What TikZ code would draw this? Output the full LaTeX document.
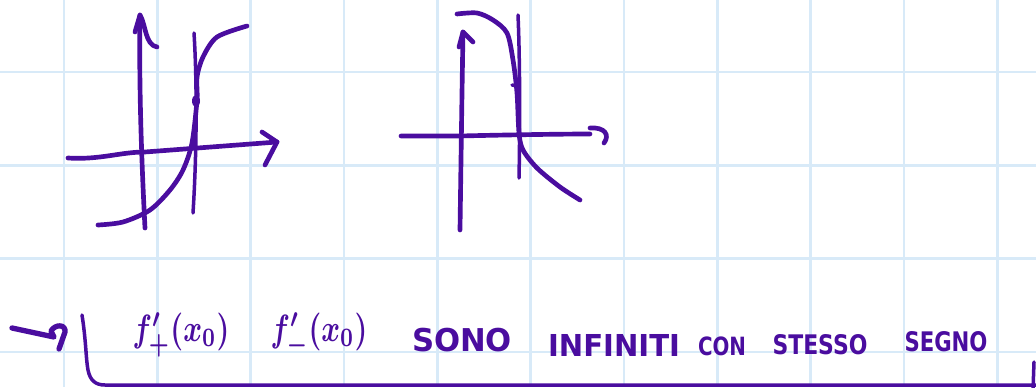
\documentclass[tikz,border=0pt]{standalone}
\usepackage{amsmath}
\usepackage{fontspec}
\usepackage{graphicx}
\usepackage{tikz}
\usetikzlibrary{calc}
\newfontfamily\handfont{DejaVu Sans}
\definecolor{ink}{HTML}{4A0D9F}
\definecolor{gridblue}{HTML}{D8EAF8}
\tikzset{
  pen/.style={draw=ink, line width=1.4mm, line cap=round, line join=round},
  thinpen/.style={draw=ink, line width=1.05mm, line cap=round, line join=round},
  gridline/.style={draw=gridblue, line width=0.8mm},
  inktext/.style={text=ink, inner sep=0},
}
% one handwritten word, stretched to its width and height (in mm)
\newcommand{\inkword}[3]{\resizebox{#1mm}{#2mm}{\handfont\bfseries #3}}
\newcommand{\inkmath}[1]{\resizebox*{29mm}{13.5mm}{\boldmath$#1$}}

\begin{document}
\begin{tikzpicture}[x=0.3mm, y=-0.3mm]
  \useasboundingbox (0,0) rectangle (1036,387);
  \fill[white] (0,0) rectangle (1036,387);
  % squared paper
  \foreach \k in {0,...,10}
    \draw[gridline] ({64+93.33*\k},0) -- ({64+93.33*\k},387);
  \foreach \k in {0,...,3}
    \draw[gridline] (0,{72+93.33*\k}) -- (1036,{72+93.33*\k});

  % left sketch: f'(x0) = +infinity
  \draw[pen] (145,228) .. controls (141,150) and (139,80) .. (140,15);
  \draw[pen] (135,32) -- (140,15) .. controls (146,25) and (145,45) .. (157,47);
  \draw[pen] (68,158) .. controls (100,160) and (120,152) .. (145,152) -- (277,142);
  \draw[pen] (262,132) -- (277,142) -- (265,165);
  \draw[thinpen] (194,33) .. controls (197,80) and (197,150) .. (193,213);
  \draw[pen] plot[smooth] coordinates {(247,26) (217,37) (203,57) (197,77) (197,100)
    (192,143) (183,170) (170,190) (150,210) (123,222) (98,225)};
  \fill[ink] (196,101) ellipse (4 and 6);

  % right sketch: f'(x0) = -infinity
  \draw[pen] (460,230) .. controls (461,160) and (462,90) .. (463,32);
  \draw[pen] (459,47) -- (463,32) -- (473,42);
  \draw[pen] (401,136) -- (460,136) .. controls (500,135) and (560,134) .. (590,134);
  \draw[pen] (590,128) .. controls (605,127) and (610,135) .. (604,143);
  \draw[thinpen] (518,15) .. controls (520,60) and (520,130) .. (519,178);
  \draw[pen] plot[smooth] coordinates {(457,14) (477,13) (493,20) (507,33) (513,60)
    (517,93) (519,133) (523,150) (537,168) (560,187) (580,200)};
  \draw[thinpen] (512,85) -- (517,86);

  % conclusion line
  \draw[pen, line width=1.6mm] (12,328) -- (54,337) -- (51,331) .. controls (55,324) and (66,324) .. (65,332) -- (59,349);
  \draw[thinpen] (82,315) .. controls (86,340) and (86,360) .. (88,370)
    .. controls (90,380) and (95,385) .. (105,385) -- (1036,385);
  \draw[thinpen] (1034,362) -- (1033,390);
  \node[inktext] (fplus) at (181,335) {\inkmath{f'_+(x_0)}};
  \node[inktext] (fminus) at (319,335) {\inkmath{f'_-(x_0)}};
  \node[inktext] (sono) at (462,340) {\inkword{30}{7}{SONO}};
  \node[inktext] (infiniti) at (614,345) {\inkword{39.6}{6.6}{INFINITI}};
  \node[inktext] (con) at (722,346) {\inkword{14.4}{5.6}{CON}};
  \node[inktext] (stesso) at (820,345) {\inkword{28.5}{6}{STESSO}};
  \node[inktext] (segno) at (946,342) {\inkword{24.9}{6}{SEGNO}};
\end{tikzpicture}
\end{document}
